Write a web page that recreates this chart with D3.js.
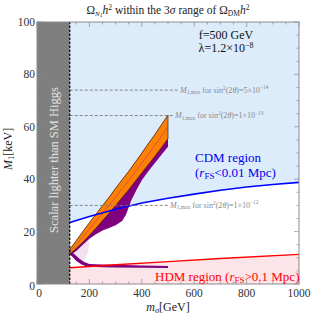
<!DOCTYPE html>
<html><head><meta charset="utf-8">
<script src="https://cdn.jsdelivr.net/npm/d3@7/dist/d3.min.js"></script>
<style>body{margin:0;background:#fff}svg{display:block}text{font-family:"Liberation Serif","DejaVu Serif",serif}</style>
</head><body><svg id="c" width="313" height="316"></svg>
<script>
const xTicks=[0,200,400,600,800,1000];
const yTicks=[0,20,40,60,80,100];
const higgsMass=125;
const cdmLine=[[125,23.5],[200,25.8],[300,28.5],[400,30.9],[500,32.7],[600,34.3],[700,35.8],[800,37],[900,38],[1000,38.8]];
const hdmLine=[[125,6.2],[300,7.35],[500,8.55],[700,9.75],[1000,11.3]];
const orangeUpper=[[125,13.2],[150,16.6],[175,20],[200,23.4],[225,26.6],[250,29.9],[275,33.1],[300,36.5],[325,39.8],[350,43],[375,46.5],[400,50],[425,53.6],[450,57.1],[475,60.8],[500,64.5]];
const orangeLower=[[125,11.4],[150,13.6],[175,16],[200,18.6],[225,21.3],[250,24.2],[275,27],[300,30],[325,33],[350,36],[375,39.2],[400,42.4],[425,45.6],[450,48.8],[475,52.1],[500,55.5]];
const orangeMid=[[125,12.3],[150,15.1],[175,18],[200,21],[225,24],[250,27],[275,30],[300,33.2],[325,36.4],[350,39.5],[375,42.8],[400,46.2],[425,49.6],[450,53],[475,56.4],[500,60]];
const purpleLower=[[125,11],[150,12.6],[175,15],[200,17.3],[225,19],[250,20.4],[275,21.4],[300,22.4],[325,24],[340,26.5],[360,32],[380,36],[400,39.6],[425,43],[450,46.2],[475,49.3],[500,52.4]];
const purpleTailUpper=[[125,12.6],[140,11.6],[160,9.8],[180,8.4],[200,7.6],[250,7.4],[300,7.3],[400,7.1],[500,6.9]];
const purpleTailLower=[[125,11.4],[135,10.4],[150,8.8],[170,7.4],[190,6.7],[250,6.4],[300,6.3],[400,6.2],[500,6.1]];
const paleRegion=[[128,12.6],[155,14],[180,16],[200,16.5],[195,12],[180,9],[160,9.9],[140,11.6]];
const mmaxLines=[{M:74,end:178,label:"5×10",exp:"−14"},{M:64.3,end:173,label:"1×10",exp:"−13"},{M:30,end:168,label:"1×10",exp:"−12"}];

const svg=d3.select("#c");
const x=d3.scaleLinear().domain([0,1000]).range([37,299]);
const y=d3.scaleLinear().domain([0,100]).range([284,22]);
const line=d3.line().x(d=>x(d[0])).y(d=>y(d[1]));

// background regions
svg.append("path").attr("d",line([[125,100]].concat(cdmLine).concat([[1000,100]]))+"Z").attr("fill","#dcecfb");
svg.append("path").attr("d",line([[125,0]].concat(hdmLine).concat([[1000,0]]))+"Z").attr("fill","#fde4e8");
svg.append("rect").attr("x",x(0)).attr("y",y(100)).attr("width",x(higgsMass)-x(0)).attr("height",y(0)-y(100)).attr("fill","#7f7f7f");

// pale region
svg.append("path").attr("d",line(paleRegion)+"Z").attr("fill","#f2e2f1");
// purple
svg.append("path").attr("d",line(orangeUpper.concat(purpleLower.slice().reverse()))+"Z").attr("fill","#800080");
svg.append("path").attr("d",line(purpleTailUpper.concat(purpleTailLower.slice().reverse()))+"Z").attr("fill","#800080");
// orange
svg.append("path").attr("d",line(orangeUpper.concat(orangeLower.slice().reverse()))+"Z").attr("fill","#ff8000").attr("stroke","#3a2a10").attr("stroke-width",0.7);
svg.append("path").attr("d",line(orangeMid)).attr("fill","none").attr("stroke","#a0408a").attr("stroke-width",0.6);

// lines
svg.append("path").attr("d",line(cdmLine)).attr("fill","none").attr("stroke","#0000ff").attr("stroke-width",1.6);
svg.append("path").attr("d",line(hdmLine)).attr("fill","none").attr("stroke","#ff0000").attr("stroke-width",1.4);

// dashed mmax lines
mmaxLines.forEach(d=>{
  svg.append("line").attr("x1",x(higgsMass)).attr("x2",d.end).attr("y1",y(d.M)).attr("y2",y(d.M)).attr("stroke","#7a7a7a").attr("stroke-width",0.9).attr("stroke-dasharray","3,2");
  const t=svg.append("text").attr("x",d.end+2).attr("y",y(d.M)+2.5).attr("font-size",8).attr("fill","#8a8a8a");
  t.append("tspan").attr("font-style","italic").text("M");
  t.append("tspan").attr("font-size",5.5).attr("dy",1.5).text("1,max");
  t.append("tspan").attr("dy",-1.5).text(" for sin");
  t.append("tspan").attr("font-size",5.5).attr("dy",-3).text("2");
  t.append("tspan").attr("dy",3).text("(2");
  t.append("tspan").attr("font-style","italic").text("θ");
  t.append("tspan").text(")="+d.label);
  t.append("tspan").attr("font-size",5.5).attr("dy",-3.5).text(d.exp);
});

// higgs dashed vertical
svg.append("line").attr("x1",x(higgsMass)).attr("x2",x(higgsMass)).attr("y1",y(0)).attr("y2",y(100)).attr("stroke","#000").attr("stroke-width",1.2).attr("stroke-dasharray","2.5,1.5");

// frame & ticks
const fc="#8c8c8c";
svg.append("rect").attr("x",x(0)).attr("y",y(100)).attr("width",x(1000)-x(0)).attr("height",y(0)-y(100)).attr("fill","none").attr("stroke",fc).attr("stroke-width",1);
const tg=svg.append("g").attr("stroke",fc).attr("stroke-width",0.7);
d3.range(0,1001,50).forEach(v=>{const L=v%200===0?5:2.5;
  tg.append("line").attr("x1",x(v)).attr("x2",x(v)).attr("y1",y(0)).attr("y2",y(0)-L);
  tg.append("line").attr("x1",x(v)).attr("x2",x(v)).attr("y1",y(100)).attr("y2",y(100)+L);});
d3.range(0,101,5).forEach(v=>{const L=v%20===0?5:2.5;
  tg.append("line").attr("y1",y(v)).attr("y2",y(v)).attr("x1",x(0)).attr("x2",x(0)+L);
  tg.append("line").attr("y1",y(v)).attr("y2",y(v)).attr("x1",x(1000)).attr("x2",x(1000)-L);});

// tick labels
xTicks.forEach(v=>svg.append("text").attr("x",x(v)+(v===0?2:0)).attr("y",y(0)+13).attr("text-anchor","middle").attr("font-size",11.5).attr("fill","#333").text(v));
yTicks.forEach(v=>svg.append("text").attr("x",x(0)-2).attr("y",y(v)+4+(v===0?2:0)).attr("text-anchor","end").attr("font-size",11.5).attr("fill","#333").text(v));

// axis labels
const xl=svg.append("text").attr("x",168).attr("y",311).attr("text-anchor","middle").attr("font-size",12).attr("fill","#222");
xl.append("tspan").attr("font-style","italic").text("m");
xl.append("tspan").attr("font-style","italic").attr("font-size",8.5).attr("dy",2).text("σ");
xl.append("tspan").attr("dy",-2).text("[GeV]");
const yl=svg.append("text").attr("transform","translate(12,149) rotate(-90)").attr("text-anchor","middle").attr("font-size",12).attr("fill","#222");
yl.append("tspan").attr("font-style","italic").text("M");
yl.append("tspan").attr("font-size",8.5).attr("dy",2).text("1");
yl.append("tspan").attr("dy",-2).text("[keV]");

// title
const ti=svg.append("text").attr("x",168).attr("y",14).attr("text-anchor","middle").attr("font-size",11.5).attr("fill","#222");
ti.append("tspan").text("Ω");
ti.append("tspan").attr("font-style","italic").attr("font-size",7).attr("dy",2).text("N");
ti.append("tspan").attr("font-size",5.5).attr("dy",1).text("1");
ti.append("tspan").attr("font-style","italic").attr("dy",-3).text("h");
ti.append("tspan").attr("font-size",7.5).attr("dy",-4).text("2");
ti.append("tspan").attr("dy",4).text(" within the 3");
ti.append("tspan").attr("font-style","italic").text("σ");
ti.append("tspan").text(" range of Ω");
ti.append("tspan").attr("font-size",7.5).attr("dy",2).text("DM");
ti.append("tspan").attr("font-style","italic").attr("dy",-2).text("h");
ti.append("tspan").attr("font-size",7.5).attr("dy",-4).text("2");

// params
svg.append("text").attr("x",226).attr("y",39).attr("text-anchor","middle").attr("font-size",12).attr("fill","#111").text("f=500 GeV");
const lam=svg.append("text").attr("x",226).attr("y",52).attr("text-anchor","middle").attr("font-size",12).attr("fill","#111");
lam.append("tspan").text("λ=1.2×10");
lam.append("tspan").attr("font-size",8).attr("dy",-4).text("−8");

// region labels
svg.append("text").attr("x",195).attr("y",162).attr("font-size",13).attr("fill","#0000ee").text("CDM region");
const c2=svg.append("text").attr("x",195).attr("y",177).attr("font-size",13).attr("fill","#0000ee");
c2.append("tspan").text("(");
c2.append("tspan").attr("font-style","italic").text("r");
c2.append("tspan").attr("font-size",9).attr("dy",2).text("FS");
c2.append("tspan").attr("dy",-2).text("<0.01 Mpc)");
const h=svg.append("text").attr("x",155).attr("y",281).attr("font-size",13).attr("fill","#ff0000");
h.append("tspan").text("HDM region (");
h.append("tspan").attr("font-style","italic").text("r");
h.append("tspan").attr("font-size",9).attr("dy",2).text("FS");
h.append("tspan").attr("dy",-2).text(">0.1 Mpc)");

// scalar text
svg.append("text").attr("transform",`translate(${(x(0)+x(higgsMass))/2+4.5},160) rotate(-90)`).attr("text-anchor","middle").attr("font-size",12.5).attr("fill","#e4e4e4").text("Scalar lighter than SM Higgs");
</script></body></html>
